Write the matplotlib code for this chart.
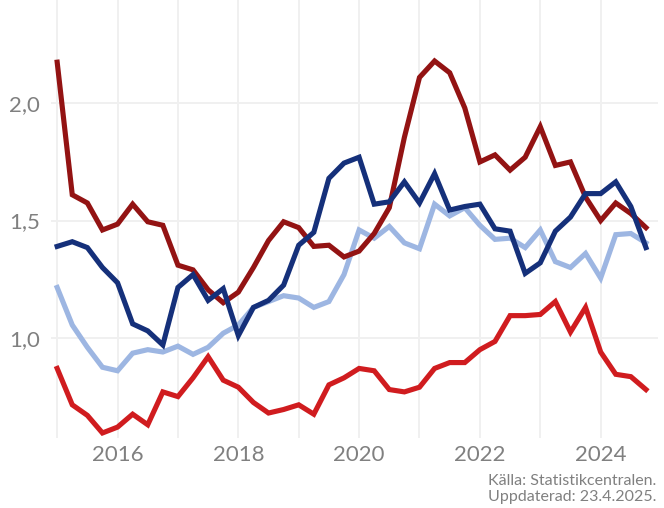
import numpy as np
import matplotlib.pyplot as plt
from matplotlib.ticker import FuncFormatter

# quarterly, 2015 Q1 .. 2024 Q4
quarters = np.arange(40) / 4 + 2015

dark_red = [2.175, 1.61, 1.575, 1.46, 1.485, 1.57, 1.495, 1.48, 1.31, 1.29,
            1.205, 1.15, 1.195, 1.30, 1.415, 1.495, 1.47, 1.39, 1.395, 1.345,
            1.37, 1.445, 1.555, 1.855, 2.11, 2.18, 2.13, 1.98, 1.75, 1.78,
            1.715, 1.77, 1.90, 1.735, 1.75, 1.60, 1.50, 1.575, 1.53, 1.47]

navy = [1.39, 1.41, 1.385, 1.30, 1.235, 1.06, 1.03, 0.97, 1.215, 1.27,
        1.16, 1.21, 1.01, 1.13, 1.16, 1.225, 1.395, 1.45, 1.68, 1.745,
        1.77, 1.57, 1.58, 1.665, 1.575, 1.70, 1.545, 1.56, 1.57, 1.465,
        1.455, 1.275, 1.32, 1.455, 1.515, 1.615, 1.615, 1.665, 1.56, 1.385]

light_blue = [1.215, 1.055, 0.96, 0.875, 0.86, 0.935, 0.95, 0.94, 0.965, 0.93,
              0.96, 1.02, 1.055, 1.13, 1.155, 1.18, 1.17, 1.13, 1.155, 1.27,
              1.46, 1.425, 1.475, 1.405, 1.38, 1.57, 1.52, 1.555, 1.48, 1.42,
              1.425, 1.385, 1.46, 1.325, 1.30, 1.36, 1.255, 1.44, 1.445, 1.405]

red = [0.87, 0.715, 0.67, 0.595, 0.62, 0.675, 0.63, 0.77, 0.75, 0.83,
       0.92, 0.82, 0.79, 0.725, 0.68, 0.695, 0.715, 0.675, 0.80, 0.83,
       0.87, 0.86, 0.78, 0.77, 0.79, 0.87, 0.895, 0.895, 0.95, 0.985,
       1.095, 1.095, 1.10, 1.155, 1.025, 1.13, 0.94, 0.845, 0.835, 0.78]

x_ticks = [2016, 2018, 2020, 2022, 2024]
y_ticks = [1.0, 1.5, 2.0]

plt.rcParams['font.family'] = ['Lato', 'DejaVu Sans']

fig = plt.figure(figsize=(6.64, 5.08), dpi=100)
ax = fig.add_axes([0.077, 0.138, 0.914, 0.862])

lw = 3.7
ax.plot(quarters, red, color='#d01c1f', lw=lw, solid_joinstyle='miter')
ax.plot(quarters, light_blue, color='#9db6e2', lw=lw, solid_joinstyle='miter')
ax.plot(quarters, dark_red, color='#931313', lw=lw, solid_joinstyle='miter')
ax.plot(quarters, navy, color='#15307a', lw=lw, solid_joinstyle='miter')

ax.set_xlim(2014.9, 2024.95)
ax.set_ylim(0.574, 2.44)

ax.set_xticks(np.arange(2015, 2025), minor=True)
ax.set_xticks(x_ticks)
ax.set_yticks(y_ticks)
ax.yaxis.set_major_formatter(FuncFormatter(lambda v, p: f"{v:.1f}".replace('.', ',')))

ax.grid(True, which='both', axis='x', color='#f0f0f0', lw=1.4)
ax.grid(True, which='major', axis='y', color='#f0f0f0', lw=1.4)
ax.set_axisbelow(True)
for s in ax.spines.values():
    s.set_visible(False)
ax.tick_params(which='both', length=0, labelsize=16, labelcolor='#808080')
ax.tick_params(axis='x', pad=5)
ax.tick_params(axis='y', pad=8)

fig.text(0.989, 0.008, "Källa: Statistikcentralen.\nUppdaterad: 23.4.2025.",
         ha='right', va='bottom', fontsize=11.5, color='#808080',
         linespacing=1.15)

fig.savefig('out.png', dpi=100)
